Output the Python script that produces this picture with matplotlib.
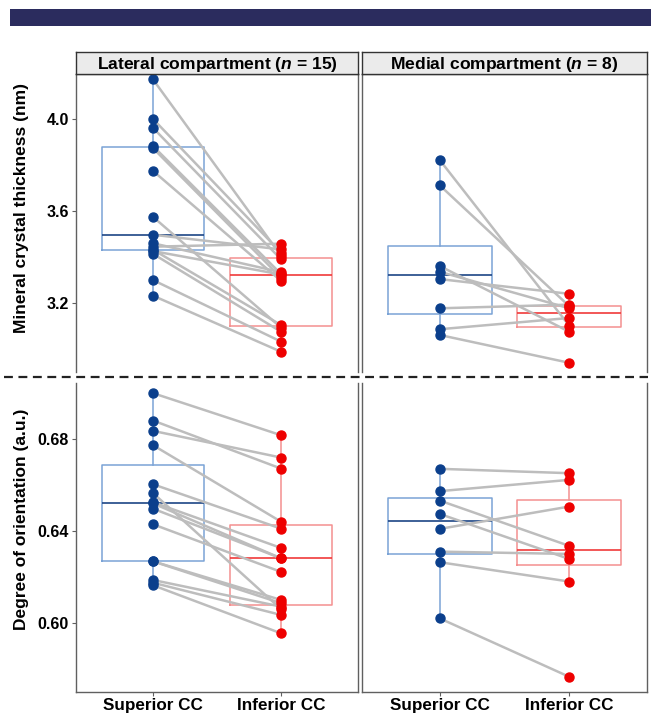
import matplotlib
matplotlib.use("Agg")
import matplotlib.pyplot as plt
from matplotlib.patches import Rectangle
from matplotlib.lines import Line2D

plt.rcParams["font.family"] = ["Liberation Sans", "DejaVu Sans"]
plt.rcParams["mathtext.fontset"] = "custom"
plt.rcParams["mathtext.it"] = "Liberation Sans:bold:italic"
plt.rcParams["mathtext.rm"] = "Liberation Sans:bold"

groups = ["Superior CC", "Inferior CC"]
compartments = ["Lateral compartment", "Medial compartment"]
n_values = [15, 8]
y_labels = ["Mineral crystal thickness (nm)", "Degree of orientation (a.u.)"]

# paired samples: index i of *_sup belongs with index i of *_inf
lat_thick_sup = [4.173, 4.001, 3.962, 3.883, 3.874, 3.775, 3.575, 3.497,
                 3.460, 3.445, 3.432, 3.426, 3.414, 3.300, 3.232]
lat_thick_inf = [3.405, 3.419, 3.390, 3.326, 3.310, 3.296, 3.093, 3.433,
                 3.334, 3.458, 3.104, 3.324, 3.075, 3.032, 2.988]
med_thick_sup = [3.822, 3.712, 3.361, 3.336, 3.304, 3.177, 3.086, 3.061]
med_thick_inf = [3.101, 3.186, 3.075, 3.177, 3.240, 3.193, 3.135, 2.940]

lat_orient_sup = [0.6999, 0.6880, 0.6835, 0.6773, 0.6603, 0.6565, 0.6525, 0.6520,
                  0.6497, 0.6429, 0.6268, 0.6268, 0.6187, 0.6175, 0.6164]
lat_orient_inf = [0.6816, 0.6671, 0.6719, 0.6440, 0.6410, 0.6060, 0.6326, 0.6281,
                  0.6281, 0.6222, 0.6100, 0.6086, 0.6071, 0.6035, 0.5955]
med_orient_sup = [0.6670, 0.6573, 0.6532, 0.6474, 0.6409, 0.6310, 0.6264, 0.6020]
med_orient_inf = [0.6651, 0.6622, 0.6335, 0.6278, 0.6506, 0.6300, 0.6180, 0.5766]

thick_ticks = [3.2, 3.6, 4.0]
orient_ticks = [0.60, 0.64, 0.68]

BLUE_PT = "#0b3f8c"
RED_PT = "#ee0000"
BLUE_BOX = "#7aa3d6"
BLUE_MED = "#1d4585"
RED_BOX = "#f49090"
RED_MED = "#f03a3a"
LINE_GREY = "#bdbdbd"

W, H = 651, 715
fig = plt.figure(figsize=(W / 100, H / 100), dpi=100)


def frac(x0, y0, x1, y1):
    return [x0 / W, 1 - y1 / H, (x1 - x0) / W, (y1 - y0) / H]


# header banner
fig.patches.append(Rectangle((10 / W, 1 - 26 / H), 1, 17 / H, transform=fig.transFigure,
                             facecolor="#2b2c5e", edgecolor="none"))

cols = [(76, 358), (362, 647)]
rows = [(74, 372), (383, 692)]
data = [[(lat_thick_sup, lat_thick_inf), (med_thick_sup, med_thick_inf)],
        [(lat_orient_sup, lat_orient_inf), (med_orient_sup, med_orient_inf)]]
ylims = [(2.90, 4.196), (0.5700, 0.7043)]
yticks = [thick_ticks, orient_ticks]
tick_fmt = ["{:.1f}", "{:.2f}"]


def draw_panel(ax, sup, inf):
    for pos, vals, ec, mc in [(1, sup, BLUE_BOX, BLUE_MED), (2, inf, RED_BOX, RED_MED)]:
        ax.boxplot([vals], positions=[pos], widths=0.8, showfliers=False, showcaps=False,
                   patch_artist=False,
                   boxprops=dict(color=ec, linewidth=1.1),
                   whiskerprops=dict(color=ec, linewidth=1.1),
                   medianprops=dict(color=mc, linewidth=1.2))
    for a, b in zip(sup, inf):
        ax.plot([1, 2], [a, b], color=LINE_GREY, linewidth=1.8, zorder=3,
                solid_capstyle="round")
    ax.plot([1] * len(sup), sup, "o", color=BLUE_PT, markersize=6.5, zorder=4)
    ax.plot([2] * len(inf), inf, "o", color=RED_PT, markersize=6.5, zorder=4)
    ax.set_xlim(0.4, 2.6)


for r, (y0, y1) in enumerate(rows):
    for c, (x0, x1) in enumerate(cols):
        ax = fig.add_axes(frac(x0, y0, x1, y1))
        sup, inf = data[r][c]
        draw_panel(ax, sup, inf)
        ax.set_ylim(*ylims[r])
        for s in ax.spines.values():
            s.set_color("#606060")
            s.set_linewidth(1.0)
        if r == 0:
            ax.spines["bottom"].set_visible(False)
            ax.set_xticks([])
        else:
            ax.spines["top"].set_visible(False)
            ax.set_xticks([1, 2])
            ax.set_xticklabels(groups, fontsize=12.3, fontweight="bold")
        ax.tick_params(axis="both", length=3, width=0.8, color="#606060", pad=2)
        ax.tick_params(axis="x", pad=1)
        if c == 0:
            ax.set_yticks(yticks[r])
            ax.set_yticklabels([tick_fmt[r].format(v) for v in yticks[r]],
                               fontsize=11.5, fontweight="bold")
        else:
            ax.set_yticks([])

# facet strips
for c, (x0, x1) in enumerate(cols):
    sax = fig.add_axes(frac(x0, 52, x1, 74))
    sax.set_facecolor("#ebebeb")
    sax.set_xticks([])
    sax.set_yticks([])
    for s in sax.spines.values():
        s.set_color("#333333")
        s.set_linewidth(1.0)
    sax.text(0.5, 0.45, compartments[c] + " ($n$ = %d)" % n_values[c], ha="center", va="center",
             fontsize=12.6, fontweight="bold", transform=sax.transAxes)

# y-axis titles
fig.text(22 / W, 1 - 208 / H, y_labels[0], rotation=90, ha="center", va="center",
         fontsize=12.5, fontweight="bold")
fig.text(22 / W, 1 - 519 / H, y_labels[1], rotation=90, ha="center", va="center",
         fontsize=12.5, fontweight="bold")

# dashed separator between the two measures
fig.add_artist(Line2D([4 / W, 648 / W], [1 - 377 / H, 1 - 377 / H], transform=fig.transFigure,
                      color="#222222", linewidth=1.6, linestyle=(0, (4, 2.5))))

fig.savefig("out.png", dpi=100)
